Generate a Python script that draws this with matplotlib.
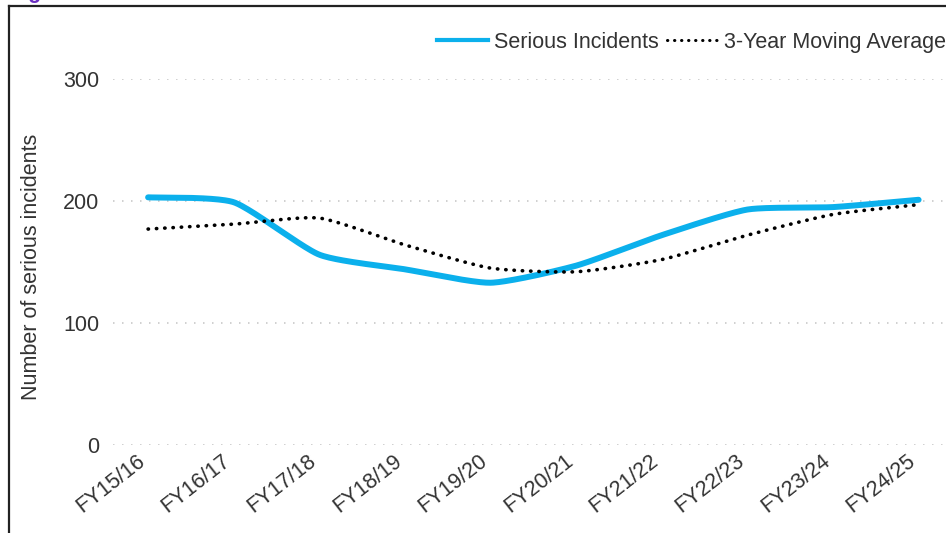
import numpy as np
import matplotlib
matplotlib.use("Agg")
import matplotlib.pyplot as plt
from matplotlib.lines import Line2D
from matplotlib.transforms import ScaledTranslation

plt.rcParams["font.family"] = ["Liberation Sans", "DejaVu Sans"]

years = ["FY15/16", "FY16/17", "FY17/18", "FY18/19", "FY19/20",
         "FY20/21", "FY21/22", "FY22/23", "FY23/24", "FY24/25"]
serious_incidents = [203, 199, 156, 144, 133, 147, 172, 193, 195, 201]
moving_average = [177, 181, 186, 164, 145, 142, 152, 172, 189, 197]
y_ticks = [0, 100, 200, 300]

BLUE = "#0BB0EC"
TEXT = "#333333"


def smooth(xs, ys, n=40, k=0.6):
    """Smoothed curve through the points, built from cubic Bezier pieces
    (Catmull-Rom tangents scaled by k)."""
    x = np.asarray(xs, float)
    y = np.asarray(ys, float)
    px = np.concatenate([[x[0]], x, [x[-1]]])
    py = np.concatenate([[y[0]], y, [y[-1]]])
    t = np.linspace(0, 1, n)[:, None]
    pts = []
    for i in range(len(x) - 1):
        p0 = np.array([px[i], py[i]])
        p1 = np.array([px[i + 1], py[i + 1]])
        p2 = np.array([px[i + 2], py[i + 2]])
        p3 = np.array([px[i + 3], py[i + 3]])
        c1 = p1 + k * (p2 - p0) / 6.0
        c2 = p2 - k * (p3 - p1) / 6.0
        seg = ((1 - t) ** 3) * p1 + 3 * ((1 - t) ** 2) * t * c1 \
            + 3 * (1 - t) * t ** 2 * c2 + t ** 3 * p2
        pts.append(seg if i == 0 else seg[1:])
    pts = np.vstack(pts)
    return pts[:, 0], pts[:, 1]


W, H = 946, 533
fig = plt.figure(figsize=(W / 100, H / 100), dpi=100)
ax = fig.add_axes([113 / W, 1 - 445 / H, 1 - 113 / W, (445 - 79) / H])

xs = np.arange(len(years))
sx, sy = smooth(xs, serious_incidents)
mx, my = smooth(xs, moving_average)

ax.plot(sx, sy, color=BLUE, lw=4.3, solid_capstyle="round",
        label="Serious Incidents", zorder=3)
ax.plot(mx, my, color="black", lw=2.6, linestyle=(0, (0.1, 2.2)),
        dash_capstyle="round", label="3-Year Moving Average", zorder=4)

ax.set_xlim(-0.41, 9.32)
ax.set_ylim(0, 300)
ax.set_yticks(y_ticks)
ax.set_xticks(xs)
ax.set_xticklabels(years, rotation=38, ha="right", va="center",
                   rotation_mode="anchor", fontsize=15.5)
ax.tick_params(axis="both", length=0, colors=TEXT)
ax.tick_params(axis="y", pad=10, labelsize=15.5)
ax.tick_params(axis="x", pad=10)
offset = ScaledTranslation(-4 / 72, 0, fig.dpi_scale_trans)
for lbl in ax.get_xticklabels():
    lbl.set_transform(lbl.get_transform() + offset)

ax.yaxis.grid(True, linestyle=(0, (0.9, 4.5)), color="#c8c8c8", lw=1.2)
ax.set_axisbelow(True)
for s in ax.spines.values():
    s.set_visible(False)

ax.set_ylabel("Number of serious incidents", fontsize=15.5, color=TEXT)
ax.yaxis.set_label_coords(42 / W, 0.5, transform=fig.transFigure)

handles = [Line2D([], [], color=BLUE, lw=3.0),
           Line2D([], [], color="black", lw=2.2, linestyle=(0, (0.1, 2.2)),
                  dash_capstyle="round")]
leg = ax.legend(handles, ["Serious Incidents", "3-Year Moving Average"],
                loc="upper right", bbox_to_anchor=(1.0, 1 - 32 / H),
                bbox_transform=fig.transFigure, ncol=2, frameon=False,
                fontsize=15.5, handlelength=2.4, handletextpad=0.25,
                columnspacing=0.4, borderaxespad=0, borderpad=0)
for t in leg.get_texts():
    t.set_color(TEXT)

# frame lines along the top and left edges
fig.add_artist(Line2D([9 / W, 1.0], [1 - 6 / H, 1 - 6 / H],
                      transform=fig.transFigure, color="#222222", lw=1.6))
fig.add_artist(Line2D([9 / W, 9 / W], [0, 1 - 6 / H],
                      transform=fig.transFigure, color="#222222", lw=1.6))
fig.text(10 / W, 1 + 2 / H, "Figure", color="#6B2FC0", fontweight="bold",
         fontsize=15.5, va="baseline", ha="left")

fig.savefig("out.png", dpi=100)
